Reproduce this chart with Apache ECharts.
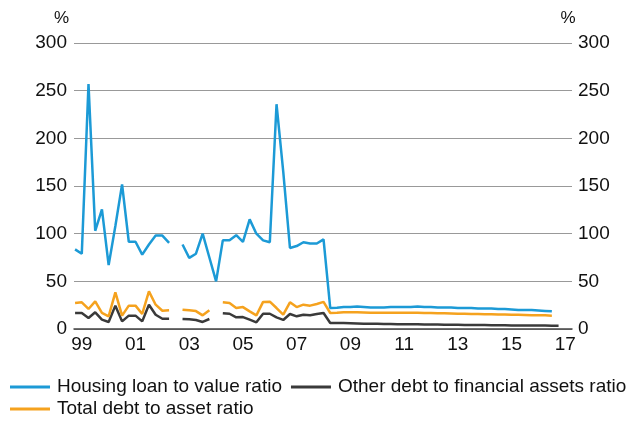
<!DOCTYPE html>
<html>
<head>
<meta charset="utf-8">
<script src="https://cdn.jsdelivr.net/npm/echarts@6/dist/echarts.min.js"></script>
<style>
html,body{margin:0;padding:0;background:#fff;}
#chart{width:638px;height:426px;}
</style>
</head>
<body>
<div id="chart"></div>
<script>
// Quarterly periods
const periods = [
  '1998Q4',
  '1999Q1','1999Q2','1999Q3','1999Q4',
  '2000Q1','2000Q2','2000Q3','2000Q4',
  '2001Q1','2001Q2','2001Q3','2001Q4',
  '2002Q1','2002Q2','2002Q3','2002Q4',
  '2003Q1','2003Q2','2003Q3','2003Q4',
  '2004Q1','2004Q2','2004Q3','2004Q4',
  '2005Q1','2005Q2','2005Q3','2005Q4',
  '2006Q1','2006Q2','2006Q3','2006Q4',
  '2007Q1','2007Q2','2007Q3','2007Q4',
  '2008Q1','2008Q2','2008Q3','2008Q4',
  '2009Q1','2009Q2','2009Q3','2009Q4',
  '2010Q1','2010Q2','2010Q3','2010Q4',
  '2011Q1','2011Q2','2011Q3','2011Q4',
  '2012Q1','2012Q2','2012Q3','2012Q4',
  '2013Q1','2013Q2','2013Q3','2013Q4',
  '2014Q1','2014Q2','2014Q3','2014Q4',
  '2015Q1','2015Q2','2015Q3','2015Q4',
  '2016Q1','2016Q2','2016Q3','2016Q4'
];

const housingLTV = [
  83.5, 79, 257, 103, 125.5, 67, 108, 151.7, 91.5, 91.5, 78, 88.6, 98, 98, 90.4,
  null,
  88.6, 74.6, 79, 100, 75, 50, 93, 93, 98.4, 91.5, 115, 100, 93, 91, 235.8, 165, 85, 87, 91, 89.7, 89.7, 94, 22, 22.3,
  23, 23, 23.5, 23, 22.5, 22.5, 22.5, 23, 23, 23, 23, 23.5, 23, 23, 22.5, 22.5, 22.5, 22, 22, 22, 21.5, 21.5, 21.5, 21, 21, 20.5, 20, 20, 20, 19.5, 19, 18.5,
  null
];

const otherDebt = [
  16.8, 16.8, 11.6, 17.5, 9.8, 7.4, 24.5, 8, 14, 14, 8, 25.5, 15, 10.8, 10.8,
  null,
  10.5, 10.2, 9.5, 7.4, 10.5,
  null,
  16.5, 16, 12.2, 12.5, 9.8, 7, 16, 16, 12.2, 9.5, 15.7, 13.3, 15, 14.4, 15.7, 16.8, 6.3, 6.3,
  6.2, 6, 5.8, 5.6, 5.5, 5.4, 5.3, 5.2, 5.1, 5, 5, 4.9, 4.8, 4.7, 4.6, 4.5, 4.5, 4.4, 4.3, 4.2, 4.2, 4.1, 4, 4, 3.9, 3.8, 3.8, 3.7, 3.7, 3.6, 3.6, 3.5, 3.5
];

const totalDebt = [
  27.3, 28, 21, 29, 16.8, 13.2, 38.5, 14, 24.5, 24.5, 15.8, 39.5, 25.5, 19.2, 19.6,
  null,
  20.3, 19.6, 18.8, 14.3, 19.6,
  null,
  28, 27.3, 22, 23, 18.5, 14.3, 28.4, 28.7, 22, 15, 28, 23, 25.5, 24.5, 26.3, 28.4, 16.8, 17,
  17.5, 17.5, 17.5, 17.3, 17, 17, 17, 17, 17, 17, 17, 17, 16.8, 16.8, 16.5, 16.5, 16.3, 16, 16, 15.8, 15.8, 15.5, 15.5, 15.3, 15.3, 15, 15, 14.8, 14.5, 14.5, 14.3, 14,
  null
];

const xTickYears = [1999, 2001, 2003, 2005, 2007, 2009, 2011, 2013, 2015, 2017];
const seriesNames = ['Housing loan to value ratio', 'Other debt to financial assets ratio', 'Total debt to asset ratio'];
const colors = ['#1c9ad6', '#3a3a3a', '#f5a21e'];

function toX(p) {
  const y = parseInt(p.slice(0, 4), 10);
  const q = parseInt(p.slice(5), 10);
  return y + (q - 1) / 4;
}
function pairs(vals) {
  return periods.map((p, i) => [toX(p), vals[i]]);
}

const font = 'Liberation Sans, Arial, Helvetica, sans-serif';
const chart = echarts.init(document.getElementById('chart'));
const yCommon = {
  type: 'value', min: 0, max: 300, interval: 50,
  axisLine: { show: false }, axisTick: { show: false },
  name: '%', nameLocation: 'end', nameGap: 16,
  axisLabel: { color: '#111', fontSize: 19, fontFamily: font }
};
const legendText = { color: '#111', fontSize: 19, fontFamily: font, lineHeight: 21, padding: [0, 0, 0, 2] };
chart.setOption({
  animation: false,
  backgroundColor: '#fff',
  grid: { left: 74, right: 66, top: 43, bottom: 97 },
  xAxis: {
    type: 'value', min: 1998.71, max: 2017.25,
    axisLine: { show: true, lineStyle: { color: '#444', width: 1.5 } },
    axisTick: { show: false },
    splitLine: { show: false },
    axisLabel: {
      customValues: xTickYears,
      formatter: v => String(Math.round(v)).slice(2),
      color: '#111', fontSize: 19, fontFamily: font, margin: 6
    }
  },
  yAxis: [
    Object.assign({}, yCommon, {
      position: 'left',
      splitLine: { show: true, lineStyle: { color: '#999', width: 1 } },
      axisLabel: Object.assign({}, yCommon.axisLabel, { margin: 7 }),
      nameTextStyle: { color: '#111', fontSize: 17, fontFamily: font, align: 'right', padding: [0, 5, 0, 0] }
    }),
    Object.assign({}, yCommon, {
      position: 'right',
      splitLine: { show: false },
      axisLabel: Object.assign({}, yCommon.axisLabel, { margin: 6 }),
      nameTextStyle: { color: '#111', fontSize: 17, fontFamily: font, align: 'center', padding: [0, 8, 0, 0] }
    })
  ],
  legend: [
    {
      data: [seriesNames[0], seriesNames[1]],
      left: 10, top: 376.5, padding: 0, itemGap: 9,
      itemWidth: 40, itemHeight: 3, icon: 'rect',
      textStyle: legendText
    },
    {
      data: [seriesNames[2]],
      left: 10, top: 398.5, padding: 0, itemGap: 9,
      itemWidth: 40, itemHeight: 3, icon: 'rect',
      textStyle: legendText
    }
  ],
  series: [
    { name: seriesNames[1], type: 'line', data: pairs(otherDebt), showSymbol: false, symbol: 'none',
      color: colors[1], lineStyle: { width: 2.5, color: colors[1] }, connectNulls: false },
    { name: seriesNames[2], type: 'line', data: pairs(totalDebt), showSymbol: false, symbol: 'none',
      color: colors[2], lineStyle: { width: 2.5, color: colors[2] }, connectNulls: false },
    { name: seriesNames[0], type: 'line', data: pairs(housingLTV), showSymbol: false, symbol: 'none',
      color: colors[0], lineStyle: { width: 2.5, color: colors[0] }, connectNulls: false }
  ]
});
</script>
</body>
</html>
